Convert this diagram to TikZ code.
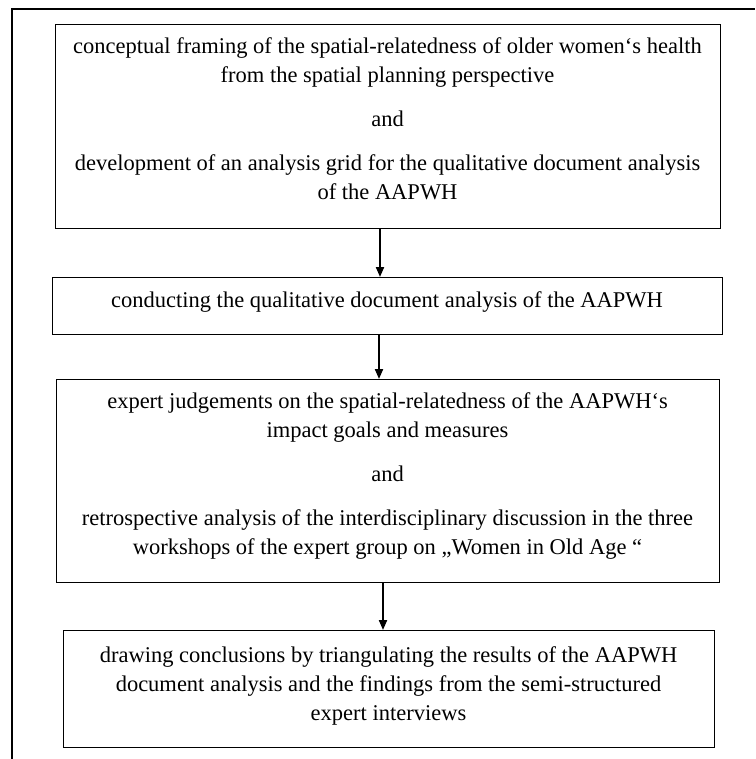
\documentclass[tikz,border=0pt]{standalone}
\usepackage{fontspec}
\setmainfont{Liberation Serif}
\usetikzlibrary{arrows.meta}
\begin{document}
\begin{tikzpicture}[x=1pt,y=-1pt,
  stepbox/.style={draw,line width=1.3pt,inner sep=0pt,anchor=north west},
  txt/.style={align=center,inner sep=0pt,anchor=north,font=\fontsize{22.5}{29}\selectfont},
  flow/.style={line width=2pt,-{Triangle[length=10pt,width=8pt]}},
  frame/.style={line width=1.3pt}]
\useasboundingbox (0,0) rectangle (755,759);
\draw[frame] (12,759) -- (12,9) -- (755,9);
% boxes
\node[stepbox,minimum width=665pt,minimum height=204pt] (b1) at (55,24) {};
\node[stepbox,minimum width=670pt,minimum height=57pt] (b2) at (52,277) {};
\node[stepbox,minimum width=663pt,minimum height=203pt] (b3) at (56,379) {};
\node[stepbox,minimum width=651pt,minimum height=117pt] (b4) at (63,630) {};
% texts
\node[txt] (t1) at (387.5,37) {conceptual framing of the spatial-relatedness of older women‘s health\\
from the spatial planning perspective\\[15pt]
and\\[15pt]
development of an analysis grid for the qualitative document analysis\\
of the AAPWH};
\node[txt] (t2) at (387,291) {conducting the qualitative document analysis of the AAPWH};
\node[txt] (t3) at (387.5,392) {expert judgements on the spatial-relatedness of the AAPWH‘s\\
impact goals and measures\\[15pt]
and\\[15pt]
retrospective analysis of the interdisciplinary discussion in the three\\
workshops of the expert group on „Women in Old Age “};
\node[txt] (t4) at (388.5,646) {drawing conclusions by triangulating the results of the AAPWH\\
document analysis and the findings from the semi-structured\\
expert interviews};
% arrows
\draw[flow] (b1.south -| 380,0) -- (b2.north -| 380,0);
\draw[flow] (b2.south -| 379,0) -- (b3.north -| 379,0);
\draw[flow] (b3.south -| 383,0) -- (b4.north -| 383,0);
\end{tikzpicture}
\end{document}
